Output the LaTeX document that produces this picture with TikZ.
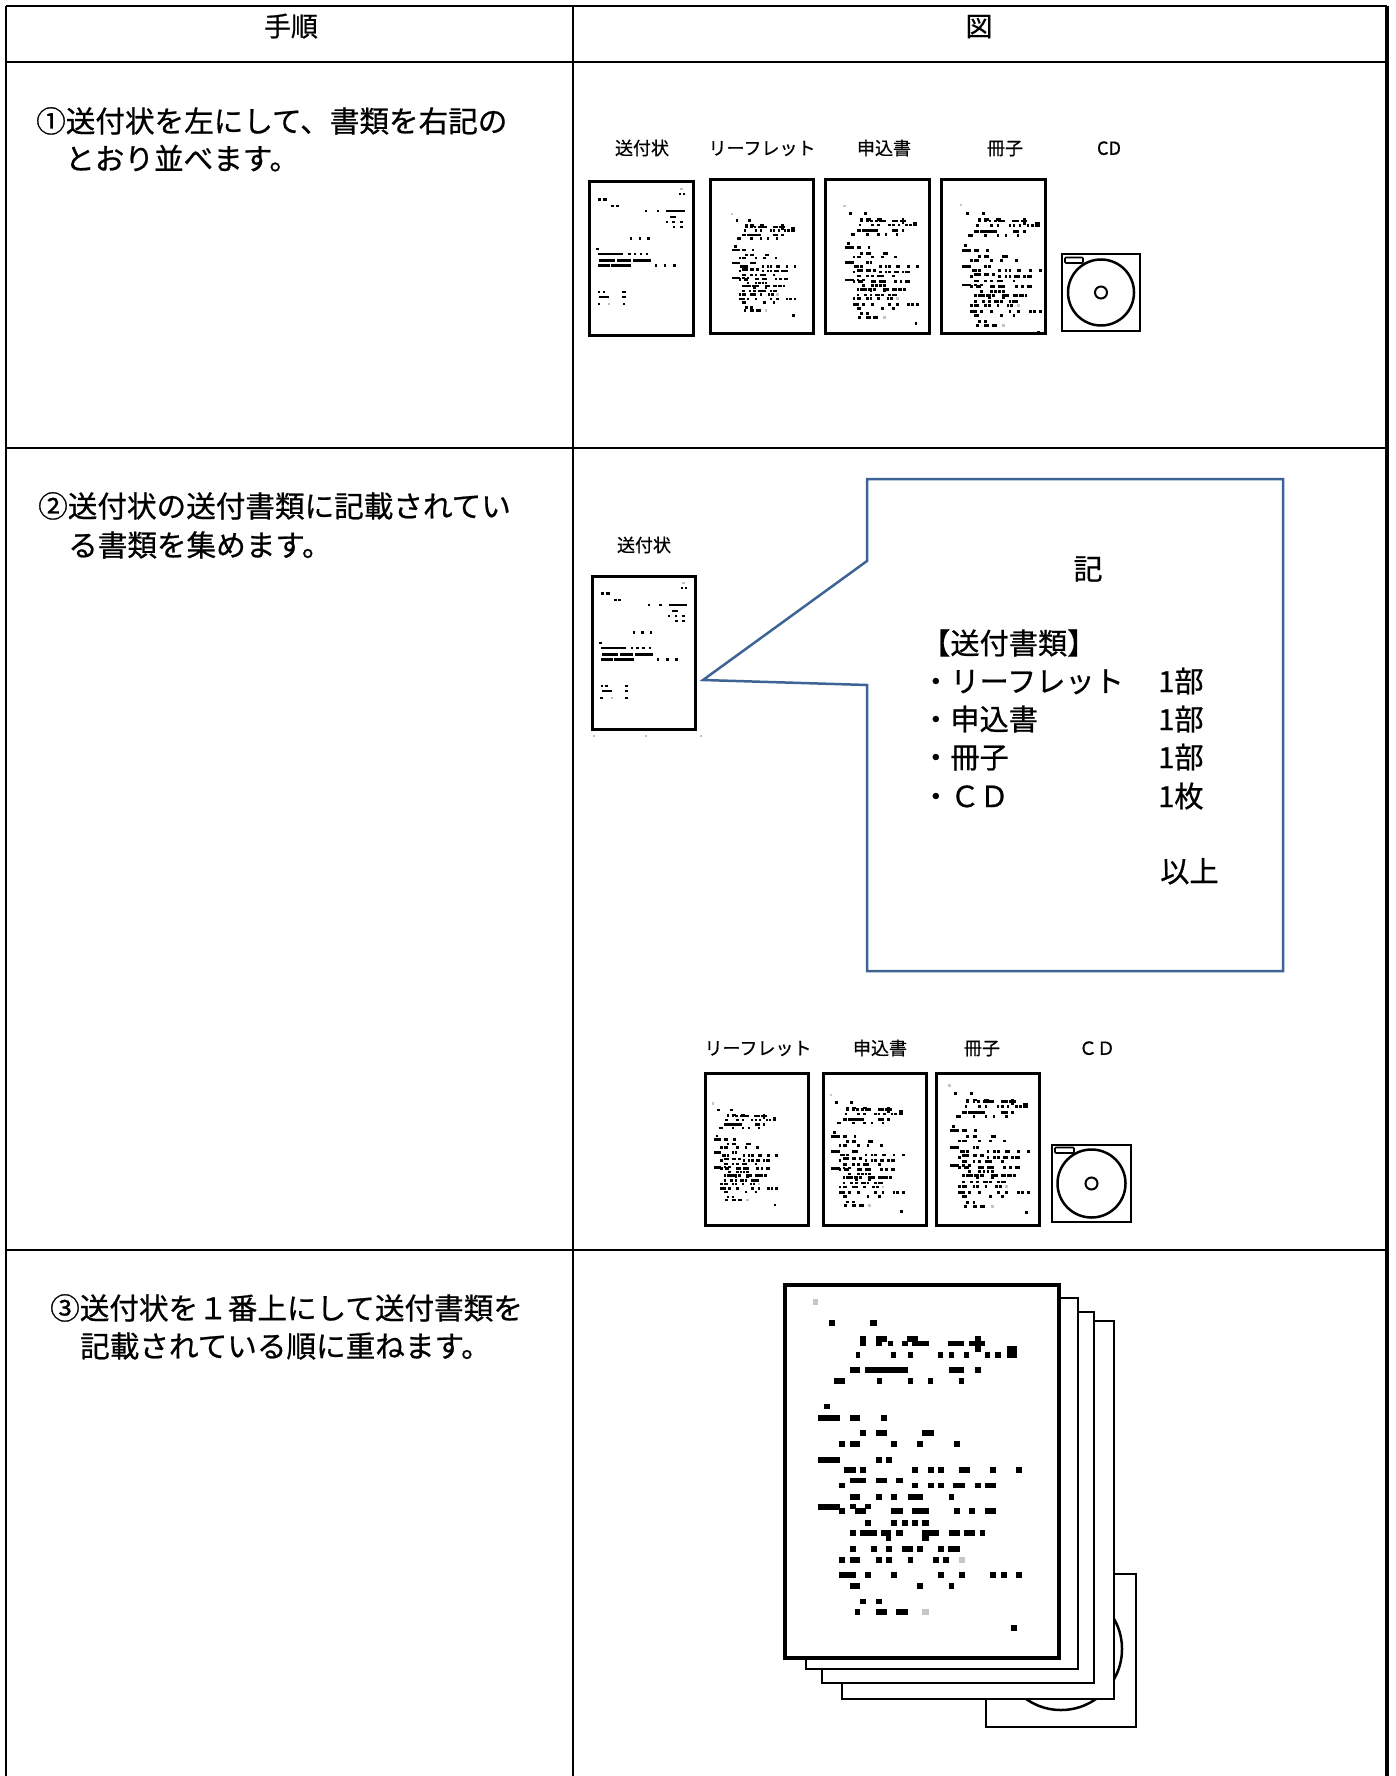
\documentclass[tikz,border=0pt]{standalone}
\usepackage{fontspec}
\newfontfamily\jp[FakeBold=0.7]{Noto Sans CJK JP}
\definecolor{callblue}{RGB}{62,100,150}

% small printed marks on a sheet (coordinates of a 3x drawing, centred on the grey mark)
\newcommand\dd[3]{\path[dotstyle] (#1,{#3-7}) rectangle (#2,{#3+7});}
\newcommand\dr[4]{\path[dotstyle] (#1,#2) rectangle (#3,#4);}
\newcommand\dg[3]{\path[dotstyle,fill=gray!45,draw=gray!45] (#1,{#3-7}) rectangle (#2,{#3+7});}
\newcommand\docmarks[4]{%
\begin{scope}[shift={(#1,#2)}, scale=#3, shift={(-166,-125)}, dotstyle/.style={fill=black, draw=black, line width=#4}]
\dg{160}{172}{125}
\dd{207}{221}{187}\dd{331}{347}{187}
\dr{300}{228}{315}{255}
\dr{348}{228}{378}{242}\dr{348}{242}{362}{255}\dr{383}{242}{396}{255}
\dr{427}{242}{442}{255}\dr{440}{228}{470}{242}\dr{455}{242}{503}{255}
\dr{565}{242}{610}{255}
\dr{628}{242}{673}{255}\dr{645}{228}{660}{242}\dr{645}{255}{660}{272}
\dd{287}{298}{283}\dd{393}{405}{283}\dd{443}{455}{283}\dd{535}{547}{283}\dd{567}{579}{283}\dd{612}{624}{283}\dd{675}{687}{283}\dd{705}{720}{283}\dr{740}{258}{768}{290}
\dd{270}{298}{329}\dd{315}{440}{329}\dd{567}{610}{329}\dd{645}{660}{329}
\dd{222}{252}{361}\dd{350}{362}{361}\dd{443}{455}{361}\dd{505}{517}{361}\dd{598}{610}{361}
\dd{192}{207}{438}
\dd{175}{238}{472}\dd{270}{298}{472}\dd{362}{377}{472}
\dd{300}{315}{518}\dd{348}{378}{518}\dd{487}{520}{518}
\dd{237}{252}{550}\dd{270}{298}{550}\dd{393}{407}{550}\dd{472}{487}{550}\dd{582}{597}{550}
\dd{175}{238}{598}\dd{348}{362}{598}\dd{378}{392}{598}
\dd{252}{285}{628}\dd{300}{315}{628}\dd{457}{470}{628}\dd{505}{518}{628}\dd{535}{548}{628}\dd{597}{627}{628}\dd{690}{705}{628}\dd{768}{782}{628}
\dd{270}{315}{660}\dd{348}{378}{660}\dd{408}{425}{660}
\dd{237}{252}{675}\dd{457}{470}{675}\dd{505}{518}{675}\dd{535}{548}{675}\dd{580}{612}{675}\dd{645}{660}{675}\dd{675}{705}{675}
\dd{270}{298}{709}\dd{348}{362}{709}\dd{393}{407}{709}\dd{443}{487}{709}\dd{567}{580}{709}
\dd{175}{238}{740}\dr{237}{745}{252}{760}\dr{270}{733}{285}{745}\dr{285}{745}{315}{760}\dr{315}{733}{330}{745}\dd{393}{425}{752}\dd{457}{503}{752}\dd{582}{597}{752}\dd{628}{643}{752}\dd{675}{705}{752}
\dd{315}{330}{787}\dd{393}{407}{787}\dd{425}{440}{787}\dd{457}{470}{787}\dd{487}{503}{787}
\dd{270}{285}{818}\dd{300}{347}{818}\dr{362}{810}{390}{825}\dr{378}{825}{390}{840}\dd{408}{425}{818}\dr{487}{810}{503}{840}\dd{503}{533}{818}\dd{567}{597}{818}\dd{612}{643}{818}\dd{660}{673}{818}
\dd{270}{285}{865}\dd{332}{347}{865}\dd{378}{392}{865}\dd{425}{457}{865}\dd{472}{487}{865}\dd{535}{548}{865}\dd{565}{597}{865}
\dd{237}{252}{898}\dd{270}{298}{898}\dd{348}{362}{898}\dd{378}{392}{898}\dd{443}{455}{898}\dd{520}{533}{898}\dd{550}{565}{898}\dg{598}{612}{898}
\dd{237}{285}{944}\dd{315}{330}{944}\dd{393}{407}{944}\dd{535}{548}{944}\dd{597}{612}{944}\dd{690}{705}{944}\dd{722}{737}{944}\dd{768}{782}{944}
\dd{270}{298}{976}\dd{472}{487}{976}\dd{567}{580}{976}
\dd{300}{315}{1023}\dd{348}{362}{1023}
\dd{285}{298}{1054}\dd{348}{378}{1054}\dd{408}{440}{1054}\dg{487}{503}{1054}
\dd{753}{768}{1102}
\end{scope}}

% marks of the cover letter, in fractions of the sheet
\newcommand\cv[3]{\fill (#1,{#3-0.007}) rectangle (#2,{#3+0.007});}
\newcommand\cvg[3]{\fill[gray!50] (#1,{#3-0.007}) rectangle (#2,{#3+0.007});}
\newcommand\covermarks[4]{%
\begin{scope}[shift={(#1,#2)}, xscale=#3, yscale=#4]
\cvg{.878}{.900}{.044}
\cv{.865}{.888}{.081}\cv{.900}{.924}{.081}
\cv{.083}{.120}{.114}\cv{.135}{.170}{.114}
\cv{.215}{.245}{.157}\cv{.255}{.284}{.157}
\cv{.540}{.562}{.190}\cv{.653}{.675}{.190}\cv{.744}{.924}{.190}
\cv{.779}{.837}{.229}
\cv{.740}{.762}{.262}\cv{.802}{.824}{.262}\cv{.878}{.900}{.262}
\cv{.809}{.831}{.293}\cv{.878}{.900}{.293}
\cv{.394}{.416}{.369}\cv{.480}{.502}{.369}\cv{.560}{.582}{.369}
\cv{.072}{.094}{.437}
\cv{.083}{.329}{.469}\cv{.377}{.399}{.469}\cv{.430}{.452}{.469}\cv{.490}{.512}{.469}\cv{.550}{.572}{.469}
\cv{.100}{.250}{.513}\cv{.270}{.400}{.513}\cv{.420}{.595}{.513}
\cv{.083}{.200}{.546}\cv{.215}{.405}{.546}\cv{.630}{.652}{.546}\cv{.722}{.744}{.546}\cv{.810}{.832}{.546}
\cv{.083}{.110}{.720}\cv{.130}{.156}{.720}\cv{.318}{.353}{.720}
\cv{.100}{.197}{.751}\cv{.318}{.353}{.751}
\cv{.082}{.104}{.797}\cvg{.180}{.200}{.797}\cv{.325}{.347}{.797}
\end{scope}}

\begin{document}
\begin{tikzpicture}[x=1pt,y=-1pt,
  rule/.style={line width=2.5pt, black},
  steptext/.style={font=\jp\fontsize{29.6}{36}\selectfont, anchor=west, inner sep=0pt, text height=26pt, text depth=3.6pt},
  headtext/.style={font=\jp\fontsize{27}{34}\selectfont, inner sep=0pt, text height=23.8pt, text depth=3.2pt},
  memo/.style={font=\jp\fontsize{29.2}{35}\selectfont, anchor=west, inner sep=0pt, text height=25.7pt, text depth=3.5pt},
  itemlabel/.style={font=\jp\fontsize{18}{22}\selectfont, inner sep=0pt, text height=15.8pt, text depth=2.2pt},
  sheet/.style={draw=black, fill=white, line width=3pt},
  thinsheet/.style={draw=black, fill=white, line width=2.5pt},
  disc/.style={draw=black, line width=2.5pt},
]
\fill[white] (0,0) rectangle (1396,1776);
\useasboundingbox (0,0) rectangle (1396,1776);

% table
\draw[rule] (6,6) -- (1387,6);
\draw[rule] (6,62) -- (1387,62);
\draw[rule] (6,448) -- (1387,448);
\draw[rule] (6,1250) -- (1387,1250);
\draw[rule] (6,6) -- (6,1776);
\draw[rule] (573,6) -- (573,1776);
\draw[line width=3.5pt] (1387,6) -- (1387,1776);

\node[headtext] (hdstep) at (291,26) {手順};
\node[headtext] (hdfig) at (979,26) {図};

% step 1
\node[steptext] (s1a) at (36,121) {①送付状を左にして、書類を右記の};
\node[steptext] (s1b) at (65,158.5) {とおり並べます。};

\node[itemlabel] (l1a) at (642,148) {送付状};
\node[itemlabel] (l1b) at (762,148) {リーフレット};
\node[itemlabel] (l1c) at (884,148) {申込書};
\node[itemlabel] (l1d) at (1005,148) {冊子};
\node[itemlabel] (l1e) at (1109,148) {CD};

\draw[sheet] (589,182) rectangle (693,335);
\covermarks{589}{182}{104}{153}
\draw[sheet] (710,180) rectangle (813,333);
\docmarks{731.7}{214}{0.104}{0.9pt}
\draw[sheet] (825,180) rectangle (929,333);
\docmarks{844.5}{206}{0.12}{0.9pt}
\draw[sheet] (941,180) rectangle (1045,333);
\docmarks{961}{205}{0.13}{0.9pt}

\draw[disc] (1062,254) rectangle (1140,331);
\draw[disc] (1101,292.5) circle[radius=33];
\draw[line width=2pt] (1101,292.5) circle[radius=6];
\draw[line width=1.6pt, rounded corners=1pt] (1065,257.5) rectangle (1083,263);

% step 2
\node[steptext] (s2a) at (38,506) {②送付状の送付書類に記載されてい};
\node[steptext] (s2b) at (68,545) {る書類を集めます。};

\node[itemlabel] (l2a) at (644,545) {送付状};
\draw[sheet] (592,576) rectangle (695,729);
\covermarks{592}{576}{103}{153}
\foreach \gx in {594,646,701} \fill[gray!50] (\gx-1.2,734.8) rectangle (\gx+1.2,737.2);

\draw[callblue, line width=2.5pt, fill=white] (867,479) -- (1283,479) -- (1283,971) -- (867,971) -- (867,685) -- (703,680) -- (867,561) -- cycle;
\node[font=\jp\fontsize{29}{35}\selectfont, inner sep=0pt] (kimemo) at (1088,569) {記};
\node[memo] (mhead) at (921,643) {【送付書類】};
\node[memo] (m1) at (921,681) {・リーフレット};
\node[memo] (m2) at (921,719) {・申込書};
\node[memo] (m3) at (921,757) {・冊子};
\node[memo] (m4) at (921,796) {・ＣＤ};
\node[memo] (n1) at (1158,681) {1部};
\node[memo] (n2) at (1158,719) {1部};
\node[memo] (n3) at (1158,757) {1部};
\node[memo] (n4) at (1158,796) {1枚};
\node[memo] (mend) at (1160,871) {以上};

\node[itemlabel] (l2b) at (758,1048) {リーフレット};
\node[itemlabel] (l2c) at (880,1048) {申込書};
\node[itemlabel] (l2d) at (982,1048) {冊子};
\node[itemlabel] (l2e) at (1097,1048) {ＣＤ};

\draw[sheet] (705,1073) rectangle (808,1225);
\docmarks{713.3}{1103.3}{0.104}{0.9pt}
\draw[sheet] (823,1073) rectangle (926,1225);
\docmarks{830.7}{1095}{0.119}{0.9pt}
\draw[sheet] (936,1073) rectangle (1039,1225);
\docmarks{949.3}{1085.7}{0.13}{0.9pt}

\draw[disc] (1052,1145) rectangle (1131,1222);
\draw[disc] (1091.5,1183.5) circle[radius=34];
\draw[line width=2pt] (1091.5,1183.5) circle[radius=6];
\draw[line width=1.6pt, rounded corners=1pt] (1055,1147.5) rectangle (1074,1153);

% step 3
\node[steptext] (s3a) at (50,1308) {③送付状を１番上にして送付書類を};
\node[steptext] (s3b) at (80,1346) {記載されている順に重ねます。};

\draw[disc, fill=white] (986,1574) rectangle (1136,1727);
\draw[disc] (1061,1649) circle[radius=61];
\draw[thinsheet] (842,1321) rectangle (1114,1699);
\draw[thinsheet] (822,1312) rectangle (1094,1683);
\draw[thinsheet] (806,1298) rectangle (1078,1669);
\draw[draw=black, fill=white, line width=4.5pt] (785,1285) rectangle (1059,1658);
\docmarks{815.3}{1301.7}{0.3333}{0.1pt}
\end{tikzpicture}
\end{document}
